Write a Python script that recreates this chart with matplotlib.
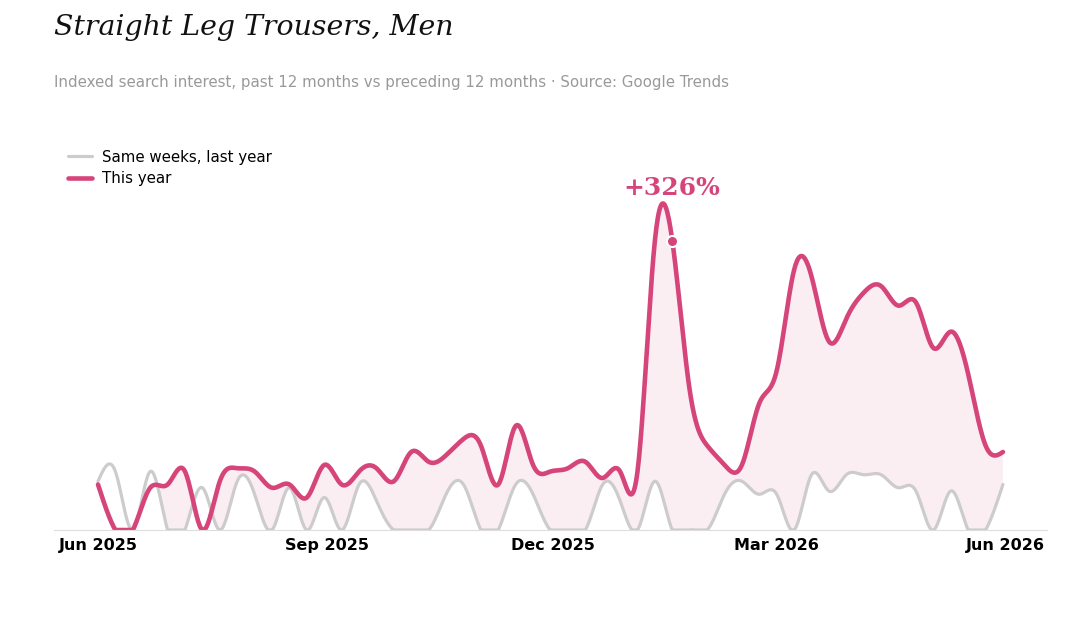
import numpy as np
import pandas as pd
import matplotlib
matplotlib.use("Agg")
import matplotlib.pyplot as plt
import matplotlib.dates as mdates

# Weekly search interest (index), Jun 2025 - May 2026
weeks = pd.date_range("2025-06-01", periods=53, freq="7D")
this_year = [14, 0, 0, 13, 14, 18, 0, 15, 19, 18, 13, 14, 10, 20, 14, 18, 19, 15, 24, 21,
             23, 28, 26, 14, 32, 20, 18, 19, 21, 16, 18, 18, 89, 89, 43, 26, 20, 20, 39, 49,
             80, 78, 58, 65, 73, 75, 69, 70, 56, 61, 48, 26, 24]
last_year = [15, 18, 0, 18, 0, 0, 13, 0, 15, 11, 0, 13, 0, 10, 0, 14, 9, 0, 0, 0,
             11, 14, 0, 0, 14, 11, 0, 0, 0, 14, 9, 0, 15, 0, 0, 0, 11, 15, 11, 11,
             0, 17, 12, 17, 17, 17, 13, 12, 0, 12, 0, 0, 14]
change_label = "+326%"
marker_week = 33

PINK = "#d6457a"
GREY = "#cccccc"


# Natural cubic spline through the weekly points, clipped at zero
def smooth(x, y, n=24):
    x = np.asarray(x, float)
    y = np.asarray(y, float)
    k = len(x)
    h = np.diff(x)
    A = np.zeros((k, k))
    b = np.zeros(k)
    A[0, 0] = A[-1, -1] = 1
    for i in range(1, k - 1):
        A[i, i - 1] = h[i - 1]
        A[i, i] = 2 * (h[i - 1] + h[i])
        A[i, i + 1] = h[i]
        b[i] = 6 * ((y[i + 1] - y[i]) / h[i] - (y[i] - y[i - 1]) / h[i - 1])
    M = np.linalg.solve(A, b)
    xs, ys = [], []
    for i in range(k - 1):
        t = np.linspace(x[i], x[i + 1], n, endpoint=False)
        a = x[i + 1] - t
        c = t - x[i]
        s = (M[i] * a**3 + M[i + 1] * c**3) / (6 * h[i]) \
            + (y[i] / h[i] - M[i] * h[i] / 6) * a + (y[i + 1] / h[i] - M[i + 1] * h[i] / 6) * c
        xs.append(t)
        ys.append(s)
    xs.append([x[-1]])
    ys.append([y[-1]])
    return np.concatenate(xs), np.clip(np.concatenate(ys), 0, None)


xnum = mdates.date2num(weeks)
xs, pink_s = smooth(xnum, this_year)
_, grey_s = smooth(xnum, last_year)

fig = plt.figure(figsize=(10.8, 6.24), dpi=100)
ax = fig.add_axes([0.05, 0.1506, 0.9194, 0.641])

ax.fill_between(xs, grey_s, pink_s, where=pink_s >= grey_s, interpolate=True,
                color=PINK, alpha=0.09, lw=0)
ax.plot(xs, grey_s, color=GREY, lw=2.3, label="Same weeks, last year", solid_capstyle="round")
ax.plot(xs, pink_s, color=PINK, lw=3.3, label="This year", solid_capstyle="round")

mx = xnum[marker_week]
my = this_year[marker_week]
ax.plot(mx, my, "o", color=PINK, ms=8, mec="white", mew=1.5, zorder=5)
ax.text(mx, 101.5, change_label, color=PINK, fontsize=18, fontweight="bold",
        family="DejaVu Serif", ha="center", va="bottom")

ax.set_ylim(0, 123)
px_per_day = (1003 - 98) / (xnum[-1] - xnum[0])
ax.set_xlim(xnum[0] - 44 / px_per_day, xnum[-1] + 44 / px_per_day)

ticks = pd.to_datetime(["2025-06-01", "2025-09-01", "2025-12-01", "2026-03-01", "2026-06-01"])
ax.set_xticks(mdates.date2num(ticks))
ax.set_xticklabels([t.strftime("%b %Y") for t in ticks], fontsize=11.5, fontweight="bold")
ax.tick_params(axis="x", length=0, pad=6)
ax.set_yticks([])
for s in ["top", "right", "left"]:
    ax.spines[s].set_visible(False)
ax.spines["bottom"].set_color("#dddddd")

ax.legend(loc="upper left", bbox_to_anchor=(0.0, 0.985), frameon=False, fontsize=10.8,
          handlelength=1.6, handletextpad=0.7, labelspacing=0.45, borderaxespad=0.5)

fig.text(0.05, 0.977, "Straight Leg Trousers, Men", fontsize=20.4, style="italic",
         family="DejaVu Serif", va="top", color="#111111")
fig.text(0.05, 0.867, "Indexed search interest, past 12 months vs preceding 12 months \u00b7 Source: Google Trends",
         fontsize=10.8, color="#999999", va="center")

fig.savefig("out.png", dpi=100)
